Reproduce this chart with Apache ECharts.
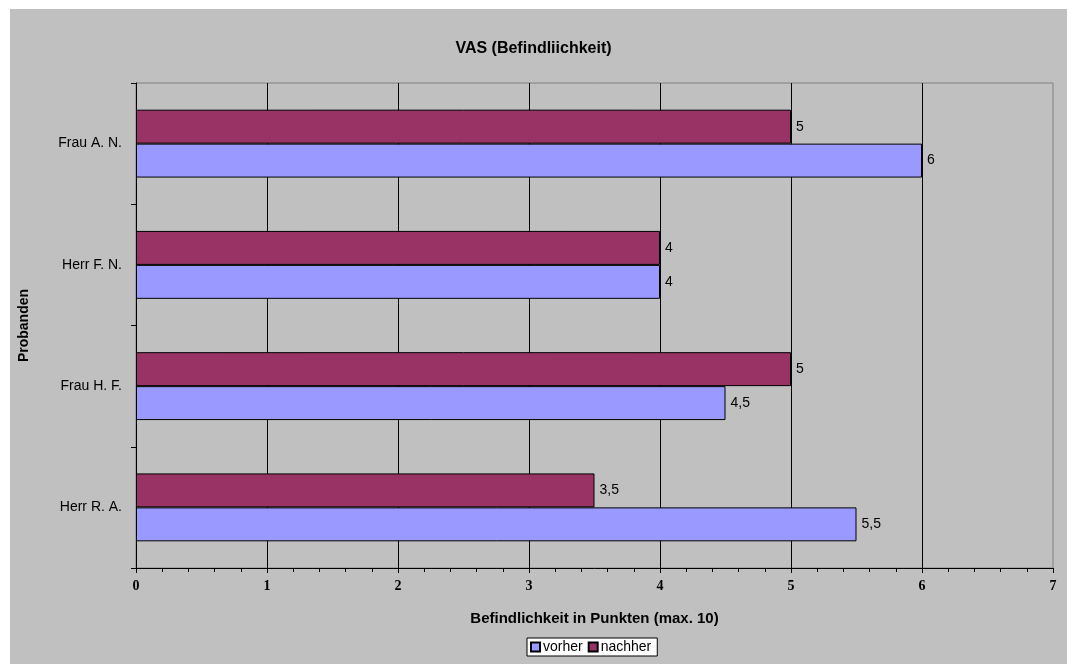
<!DOCTYPE html>
<html>
<head>
<meta charset="utf-8">
<script src="https://cdn.jsdelivr.net/npm/echarts@6/dist/echarts.min.js"></script>
<style>
  html, body { margin: 0; padding: 0; background: #fff; }
  #wrap { position: relative; width: 1067px; height: 664px; overflow: hidden; }
  #panel { position: absolute; left: 10px; top: 9px; width: 1057px; height: 655px; background: #C0C0C0; }
  #chart { position: absolute; left: 0; top: 0; width: 1067px; height: 664px; }
</style>
</head>
<body>
<div id="wrap">
  <div id="panel"></div>
  <div id="chart"></div>
</div>
<script>
// Probanden, listed bottom to top
const categories = ['Herr R. A.', 'Frau H. F.', 'Herr F. N.', 'Frau A. N.'];
const vorher = [5.5, 4.5, 4, 6];
const nachher = [3.5, 5, 4, 5];
const xTicks = [0, 1, 2, 3, 4, 5, 6, 7];

const sans = 'Arial, "Liberation Sans", sans-serif';
const serif = '"Times New Roman", "Liberation Serif", serif';

const chart = echarts.init(document.getElementById('chart'), null, { renderer: 'canvas' });

const labelCfg = {
  show: true,
  position: 'right',
  distance: 5,
  color: '#000',
  fontFamily: sans,
  fontSize: 14,
  formatter: p => String(p.value).replace('.', ',')
};

chart.setOption({
  animation: false,
  title: {
    text: 'VAS (Befindliichkeit)',
    left: 'center',
    top: 36,
    textStyle: { fontFamily: sans, fontSize: 16, fontWeight: 'bold', color: '#000' }
  },
  legend: {
    data: ['vorher', 'nachher'],
    left: 527,
    top: 638,
    orient: 'horizontal',
    backgroundColor: '#fff',
    borderColor: '#000',
    borderWidth: 1,
    borderRadius: 0,
    padding: [2, 6, 2, 3],
    itemGap: 5,
    itemWidth: 9,
    itemHeight: 9,
    icon: 'rect',
    textStyle: { fontFamily: sans, fontSize: 14, color: '#000', padding: [0, 0, 0, -2] }
  },
  grid: {
    left: 136,
    right: 14,
    top: 83,
    bottom: 96,
    show: true,
    backgroundColor: '#C0C0C0',
    borderColor: '#808080',
    borderWidth: 1
  },
  xAxis: {
    type: 'value',
    min: xTicks[0],
    max: xTicks[xTicks.length - 1],
    interval: 1,
    name: 'Befindlichkeit in Punkten (max. 10)',
    nameLocation: 'middle',
    nameGap: 43,
    nameTextStyle: { fontFamily: sans, fontSize: 15, fontWeight: 'bold', color: '#000' },
    axisLine: { show: true, lineStyle: { color: '#000', width: 1 } },
    axisTick: { show: true, length: 5, lineStyle: { color: '#000' } },
    minorTick: { show: true, splitNumber: 5, length: 4, lineStyle: { color: '#000' } },
    axisLabel: {
      margin: 11,
      fontFamily: serif,
      fontSize: 14,
      fontWeight: 'bold',
      color: '#000'
    },
    splitLine: { show: true, showMinLine: false, showMaxLine: false, lineStyle: { color: '#000', width: 1 } }
  },
  yAxis: {
    type: 'category',
    data: categories,
    name: 'Probanden',
    nameLocation: 'middle',
    nameGap: 105,
    nameRotate: 90,
    nameTextStyle: { fontFamily: sans, fontSize: 14, fontWeight: 'bold', color: '#000' },
    axisLine: { show: true, lineStyle: { color: '#000', width: 1 } },
    axisTick: { show: true, length: 5, alignWithLabel: false, lineStyle: { color: '#000' } },
    axisLabel: { margin: 14, fontFamily: sans, fontSize: 14, color: '#000' },
    splitLine: { show: false }
  },
  series: [
    {
      // drawn in the upper half of each category band
      name: 'nachher',
      type: 'bar',
      data: nachher,
      barGap: '0%',
      barCategoryGap: '44%',
      itemStyle: { color: '#993366', borderColor: '#000', borderWidth: 1 },
      label: labelCfg
    },
    {
      name: 'vorher',
      type: 'bar',
      data: vorher,
      barGap: '0%',
      barCategoryGap: '44%',
      itemStyle: { color: '#9999FF', borderColor: '#000', borderWidth: 1 },
      label: labelCfg
    }
  ]
});
</script>
</body>
</html>
